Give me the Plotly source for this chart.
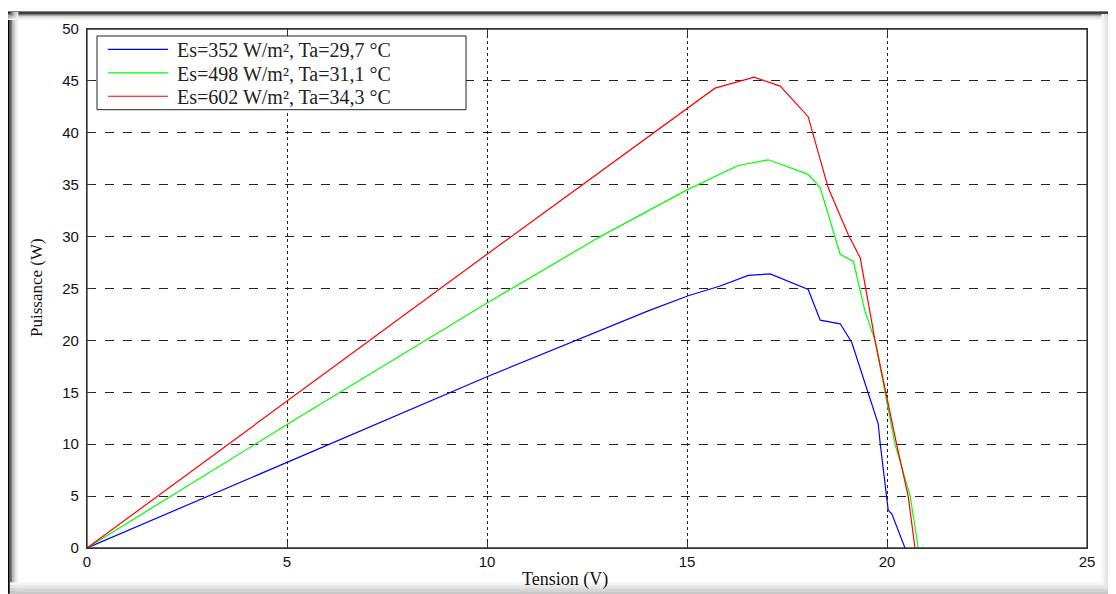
import plotly.graph_objects as go

# Tension (V) / Puissance (W)
v_blue = [0, 5, 10, 14.03, 15.03, 15.83, 16.53, 17.08, 18.03, 18.33, 18.83, 19.12, 19.53, 19.78, 19.83, 20.03, 20.12, 20.45]
p_blue = [0, 8.25, 16.5, 22.84, 24.3, 25.24, 26.27, 26.4, 24.9, 21.95, 21.6, 19.8, 14.85, 11.97, 10.07, 3.65, 3.3, 0]

v_green = [0, 5, 10, 12.83, 15, 16.28, 17.03, 18.03, 18.33, 18.83, 19.16, 19.45, 19.7, 20.2, 20.58, 20.78]
p_green = [0, 11.9, 23.6, 30.0, 34.5, 36.85, 37.4, 36.0, 34.7, 28.3, 27.6, 22.8, 20.0, 10.0, 5.0, 0]

v_red = [0, 5, 10, 15.7, 16.68, 17.33, 18.03, 18.12, 18.53, 19.03, 19.33, 19.7, 20.24, 20.53, 20.7]
p_red = [0, 14.15, 28.3, 44.3, 45.36, 44.5, 41.55, 40.3, 34.7, 30.2, 27.96, 20.0, 10.0, 5.0, 0]

names = ["Es=352 W/m², Ta=29,7 °C", "Es=498 W/m², Ta=31,1 °C", "Es=602 W/m², Ta=34,3 °C"]
colors = ["#0000ff", "#00ff00", "#ff0000"]

x_ticks = [0, 5, 10, 15, 20, 25]
y_ticks = [0, 5, 10, 15, 20, 25, 30, 35, 40, 45, 50]

fig = go.Figure()
for v, p, n, c in zip([v_blue, v_green, v_red], [p_blue, p_green, p_red], names, colors):
    fig.add_trace(go.Scatter(x=v, y=p, mode="lines", name=n, line=dict(color=c, width=1.2),
                             showlegend=False))

# page offset: the html body has an 8px margin
OFF = 8
FW, FH = 1116 - OFF, 594 - OFF
L, R, T, B = 87, 1087, 27, 548  # plot area in page pixels
W, H = R - L, B - T

def px(x):
    return (x - L) / W

def py(y):
    return (B - y) / H

shapes = []
# outer frame with soft shading
for i, col in enumerate(["#000000", "#333333", "#777777", "#aaaaaa", "#cccccc", "#e4e4e4", "#f2f2f2"]):
    shapes.append(dict(type="line", xref="paper", yref="paper", x0=px(8.5 + i * 1.5), x1=px(8.5 + i * 1.5),
                       y0=py(10), y1=py(594), line=dict(color=col, width=1.6), layer="below"))
    shapes.append(dict(type="line", xref="paper", yref="paper", x0=px(8), x1=px(1116),
                       y0=py(10 + i * 1.2), y1=py(10 + i * 1.2), line=dict(color=col, width=1.3), layer="below"))
for i, col in enumerate(["#f4f4f4", "#e6e6e6", "#d6d6d6", "#c8c8c8"]):
    shapes.append(dict(type="line", xref="paper", yref="paper", x0=px(10), x1=px(1116),
                       y0=py(584 + i * 3), y1=py(584 + i * 3), line=dict(color=col, width=3), layer="below"))
    shapes.append(dict(type="line", xref="paper", yref="paper", x0=px(1103 + i * 3), x1=px(1103 + i * 3),
                       y0=py(12), y1=py(594), line=dict(color=col, width=3), layer="below"))
# plot box
shapes.append(dict(type="rect", xref="paper", yref="paper", x0=0, x1=1, y0=0, y1=1,
                   line=dict(color="#333333", width=1.3)))

# legend box (MATLAB style)
shapes.append(dict(type="rect", xref="paper", yref="paper", x0=px(97), x1=px(466), y0=py(34), y1=py(108),
                   line=dict(color="#222222", width=1), fillcolor="white", layer="above"))
annotations = []
for i, (n, c) in enumerate(zip(names, colors)):
    yy = 47.5 + i * 23.5
    shapes.append(dict(type="line", xref="paper", yref="paper", x0=px(108), x1=px(168), y0=py(yy), y1=py(yy),
                       line=dict(color=c, width=1.2), layer="above"))
    annotations.append(dict(text=n, xref="paper", yref="paper", x=px(175), y=py(yy + 1),
                            xanchor="left", yanchor="middle", showarrow=False,
                            font=dict(family="Liberation Serif", size=20, color="#222222")))

annotations += [
    dict(text="Tension (V)", xref="paper", yref="paper", x=px(565), y=py(580),
         xanchor="center", yanchor="middle", showarrow=False,
         font=dict(family="Liberation Serif", size=18, color="#111111")),
    dict(text="Puissance (W)", xref="paper", yref="paper", x=px(36), y=py(287),
         xanchor="center", yanchor="middle", showarrow=False, textangle=-90,
         font=dict(family="Liberation Serif", size=17, color="#111111")),
]

fig.update_layout(
    width=FW, height=FH,
    margin=dict(l=L - OFF, r=1116 - R, t=T - OFF, b=594 - B),
    paper_bgcolor="white", plot_bgcolor="white",
    shapes=shapes,
    annotations=annotations,
    showlegend=False,
)
fig.update_xaxes(range=[0, 25], tickvals=x_ticks, ticktext=[str(t) for t in x_ticks],
                 ticks="inside", ticklen=6, tickcolor="#333333", mirror="ticks",
                 showline=True, linecolor="#333333", linewidth=1.3,
                 showgrid=True, gridcolor="#222222", griddash="dot", gridwidth=1,
                 zeroline=False,
                 tickfont=dict(family="Liberation Sans", size=15, color="#111111"))
fig.update_yaxes(range=[0, 50], tickvals=y_ticks, ticktext=[str(t) for t in y_ticks],
                 ticks="inside", ticklen=6, tickcolor="#333333", mirror="ticks",
                 showline=True, linecolor="#333333", linewidth=1.3,
                 showgrid=True, gridcolor="#222222", griddash="dash", gridwidth=1,
                 zeroline=False, ticklabelstandoff=4,
                 tickfont=dict(family="Liberation Sans", size=15, color="#111111"))

fig.write_html("out.html")
